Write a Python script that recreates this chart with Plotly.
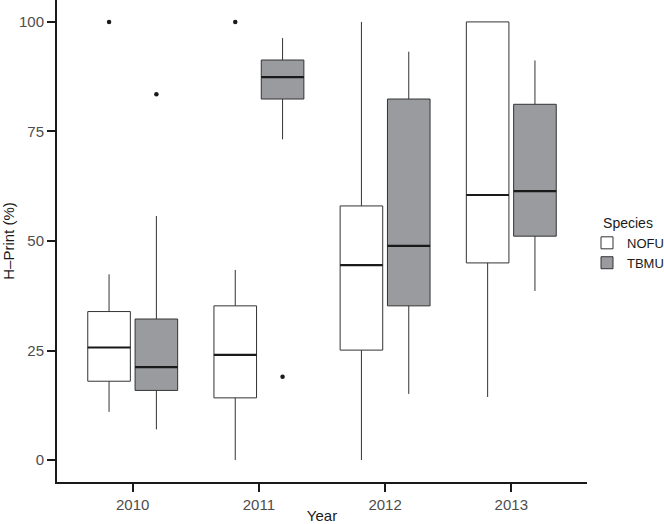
import plotly.graph_objects as go

years = ["2010", "2011", "2012", "2013"]
year_idx = [0, 1, 2, 3]

# NOFU stats
nofu_low = [11.0, 0.0, 0.0, 14.4]
nofu_q1 = [18.0, 14.2, 25.1, 45.0]
nofu_med = [25.7, 24.0, 44.5, 60.5]
nofu_q3 = [33.9, 35.2, 58.0, 100.0]
nofu_high = [42.4, 43.4, 100.0, 100.0]
nofu_out_idx = [0, 1]
nofu_out_val = [100.0, 100.0]

# TBMU stats
tbmu_low = [7.0, 73.2, 15.1, 38.6]
tbmu_q1 = [15.9, 82.4, 35.2, 51.1]
tbmu_med = [21.2, 87.4, 48.9, 61.4]
tbmu_q3 = [32.2, 91.3, 82.4, 81.2]
tbmu_high = [55.7, 96.3, 93.2, 91.2]
tbmu_out_idx = [0, 1]
tbmu_out_val = [83.5, 19.0]

dodge = 0.1875
box_w = 0.3375
edge = "#333333"

fig = go.Figure()

def add_species(name, fill, low, q1, med, q3, high, out_idx, out_val, sign):
    xs = [i + sign * dodge for i in year_idx]
    fig.add_trace(go.Box(
        name=name, x=xs, lowerfence=low, q1=q1, median=med, q3=q3, upperfence=high,
        width=box_w, fillcolor=fill, line=dict(color=edge, width=1),
        whiskerwidth=0, boxpoints=False, showlegend=True,
    ))
    fig.add_trace(go.Box(
        x=xs, lowerfence=med, q1=med, median=med, q3=med, upperfence=med,
        width=box_w, fillcolor="rgba(0,0,0,0)", line=dict(color="#1a1a1a", width=2.2),
        whiskerwidth=0, boxpoints=False, showlegend=False, hoverinfo="skip",
    ))
    fig.add_trace(go.Scatter(
        x=[i + sign * dodge for i in out_idx], y=out_val, mode="markers",
        marker=dict(color="#1a1a1a", size=4.5), showlegend=False, hoverinfo="skip",
    ))

add_species("NOFU", "#ffffff", nofu_low, nofu_q1, nofu_med, nofu_q3, nofu_high,
            nofu_out_idx, nofu_out_val, -1)
add_species("TBMU", "#9a9b9f", tbmu_low, tbmu_q1, tbmu_med, tbmu_q3, tbmu_high,
            tbmu_out_idx, tbmu_out_val, 1)

font = "Liberation Sans, Arial, sans-serif"
fig.update_layout(
    width=664, height=524,
    margin=dict(l=57, r=77, t=0, b=42, autoexpand=False),
    plot_bgcolor="white", paper_bgcolor="white",
    font=dict(family=font, size=15, color="#333333"),
    xaxis=dict(
        range=[-0.6, 3.6], tickvals=year_idx, ticktext=years, automargin=False,
        showline=True, linewidth=2, linecolor="#1a1a1a", showgrid=False, zeroline=False,
        ticks="outside", ticklen=8, tickwidth=2, tickcolor="#1a1a1a",
        tickfont=dict(size=15, color="#4d4d4d"),
        title=dict(text="Year", font=dict(size=15, color="#1a1a1a"), standoff=0),
    ),
    yaxis=dict(
        range=[-5, 105], tickvals=[0, 25, 50, 75, 100], automargin=False,
        showline=True, linewidth=2, linecolor="#1a1a1a", showgrid=False, zeroline=False,
        ticks="outside", ticklen=8, tickwidth=2, tickcolor="#1a1a1a",
        tickfont=dict(size=15, color="#4d4d4d"),
        title=dict(text="H–Print (%)", font=dict(size=15, color="#1a1a1a"), standoff=2),
    ),
    legend=dict(
        title=dict(text="Species", side="top center", font=dict(size=14, color="#1a1a1a")),
        x=1.0, xanchor="left", y=0.565, yanchor="top",
        font=dict(size=13, color="#1a1a1a"), tracegroupgap=0, itemwidth=30,
    ),
    showlegend=True,
)

fig.write_html("out.html", config={"displayModeBar": False},
               post_script="document.body.style.margin='0px';")
